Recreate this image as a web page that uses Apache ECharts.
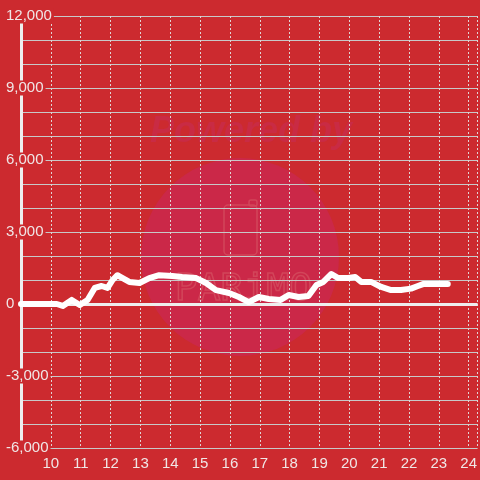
<!DOCTYPE html>
<html>
<head>
<meta charset="utf-8">
<script src="https://cdn.jsdelivr.net/npm/echarts@6/dist/echarts.min.js"></script>
<style>
html,body{margin:0;padding:0;background:#CC2A2F;}
#chart{width:480px;height:480px;}
</style>
</head>
<body>
<div id="chart"></div>
<script>
// hour of day
var hours = [9.0, 10.0, 10.2, 10.4, 10.7, 10.97, 11.23, 11.47, 11.7, 11.9, 12.07, 12.23, 12.3, 12.63, 12.97, 13.3, 13.63, 14.07, 14.4, 14.87, 15.2, 15.53, 15.97, 16.3, 16.63, 16.97, 17.3, 17.7, 17.97, 18.3, 18.63, 18.9, 19.13, 19.4, 19.63, 19.97, 20.2, 20.4, 20.73, 21.07, 21.4, 21.73, 22.07, 22.3, 22.47, 23.3];
var values = [0, 0, 0, -80, 170, -40, 170, 670, 750, 670, 1000, 1200, 1150, 920, 875, 1080, 1200, 1170, 1125, 1080, 875, 580, 460, 290, 80, 290, 210, 170, 375, 290, 330, 790, 920, 1250, 1080, 1080, 1125, 920, 920, 710, 580, 580, 640, 750, 830, 830];
var yTickLabels = [-6000, -3000, 0, 3000, 6000, 9000, 12000];

var BG = '#CC2A2F';
var chart = echarts.init(document.getElementById('chart'));
var data = hours.map(function (h, i) { return [h, values[i]]; });

chart.setOption({
  backgroundColor: BG,
  animation: false,
  textStyle: { fontFamily: 'Liberation Sans, Arial, sans-serif' },
  graphic: [
    { type: 'circle', z: -10, silent: true, shape: { cx: 240, cy: 257, r: 99 }, style: { fill: '#CB2848' } },
    { type: 'text', z: -10, silent: true, left: 150, top: 114, style: { text: 'Powered by', font: 'italic bold 36px Liberation Sans', fill: '#C92B44' } },
    { type: 'rect', z: -10, silent: true, shape: { x: 224, y: 205, width: 33, height: 50, r: 4 }, style: { fill: 'none', stroke: '#D2465A', lineWidth: 1.5 } },
    { type: 'rect', z: -10, silent: true, shape: { x: 249, y: 200, width: 8, height: 6, r: 2 }, style: { fill: 'none', stroke: '#D2465A', lineWidth: 1.5 } },
    { type: 'text', z: -10, silent: true, left: 174, top: 270, style: { text: 'PARiMO', font: '38px DejaVu Sans Mono', fill: 'none', stroke: '#D2465A', lineWidth: 1.5 } }
  ],
  grid: { left: 21, right: 0, top: 16, bottom: 32, containLabel: false },
  xAxis: {
    type: 'value',
    min: 9,
    max: 24.3,
    interval: 1,
    axisLine: { show: false },
    axisTick: { show: false },
    axisLabel: {
      color: '#F0E6E6',
      fontSize: 15,
      margin: 8,
      showMaxLabel: false,
      formatter: function (v) { return (v === 9 ? '' : String(v)); }
    },
    splitLine: { show: true, lineStyle: { color: '#E0D4D4', type: [2, 2], width: 1 } }
  },
  yAxis: {
    type: 'value',
    min: -6000,
    max: 12000,
    interval: 1000,
    axisLine: { show: true, onZero: false, lineStyle: { color: '#EEEEEE', width: 3 } },
    axisTick: { show: false },
    axisLabel: {
      color: '#F0E6E6',
      fontSize: 15,
      align: 'left',
      margin: 15,
      backgroundColor: BG,
      padding: [0, 2, 0, 0],
      lineHeight: 15,
      formatter: function (v) {
        if (yTickLabels.indexOf(v) < 0) return '';
        return v.toLocaleString('en-US');
      }
    },
    splitLine: { show: true, lineStyle: { color: '#C8C8C8', width: 1 } }
  },
  series: [{
    type: 'line',
    data: data,
    showSymbol: false,
    symbol: 'none',
    lineStyle: { color: '#FFFFFF', width: 6, cap: 'round', join: 'round' },
    markLine: {
      silent: true,
      symbol: 'none',
      label: { show: false },
      lineStyle: { color: '#EEEEEE', width: 3, type: 'solid' },
      data: [{ yAxis: 0 }],
      z: 1
    },
    z: 5
  }]
});
</script>
</body>
</html>
